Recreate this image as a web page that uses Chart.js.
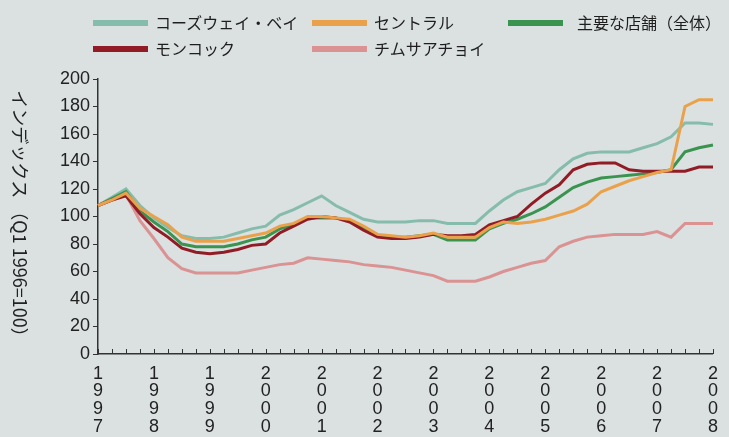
<!DOCTYPE html>
<html>
<head>
<meta charset="utf-8">
<script src="https://cdn.jsdelivr.net/npm/chart.js@4/dist/chart.umd.min.js"></script>
<style>
  html, body { margin: 0; padding: 0; }
  body { width: 729px; height: 437px; background: #dbe0e1; position: relative; overflow: hidden; }
  #chart { position: absolute; left: 0; top: 0; }
  .lg { position: absolute; font-family: "Noto Sans CJK JP", sans-serif; font-size: 16px; color: #1e1e1e; line-height: 1; white-space: nowrap; }
  .sw { position: absolute; height: 6px; width: 55px; }
</style>
</head>
<body>
<canvas id="chart" width="729" height="437"></canvas>
<div id="legend"></div>
<script>
// quarterly, 1997Q1 .. 2008Q1
const years = ['1997', '1998', '1999', '2000', '2001', '2002', '2003', '2004', '2005', '2006', '2007', '2008'];
const quarters = [];
years.forEach(y => { ['Q1', 'Q2', 'Q3', 'Q4'].forEach(q => quarters.push(y + q)); });
quarters.length = 45;

const causewayBay = [108, 114, 120, 108, 99, 92, 86, 84, 84, 85, 88, 91, 93, 101, 105, 110, 115, 108, 103, 98,
  96, 96, 96, 97, 97, 95, 95, 95, 104, 112, 118, 121, 124, 134, 142, 146, 147, 147, 147, 150, 153, 158, 168, 168, 167];
const central = [108, 112, 117, 106, 100, 94, 85, 82, 82, 82, 84, 86, 88, 93, 95, 100, 100, 99, 98, 93,
  87, 86, 85, 86, 88, 85, 85, 85, 92, 96, 95, 96, 98, 101, 104, 109, 118, 122, 126, 129, 132, 134, 180, 185, 185];
const mongKok = [108, 112, 115, 102, 92, 85, 77, 74, 73, 74, 76, 79, 80, 88, 93, 98, 100, 99, 96, 90,
  85, 84, 84, 85, 87, 86, 86, 87, 94, 97, 100, 109, 117, 123, 134, 138, 139, 139, 134, 133, 133, 133, 133, 136, 136];
const tsimShaTsui = [108, 112, 116, 97, 84, 70, 62, 59, 59, 59, 59, 61, 63, 65, 66, 70, 69, 68, 67, 65,
  64, 63, 61, 59, 57, 53, 53, 53, 56, 60, 63, 66, 68, 78, 82, 85, 86, 87, 87, 87, 89, 85, 95, 95, 95];
const overall = [108, 113, 118, 104, 96, 89, 80, 78, 78, 78, 80, 83, 85, 91, 94, 99, 99, 99, 97, 91,
  86, 85, 85, 86, 87, 83, 83, 83, 91, 95, 98, 102, 107, 114, 121, 125, 128, 129, 130, 131, 132, 134, 147, 150, 152];

const yTicks = [0, 20, 40, 60, 80, 100, 120, 140, 160, 180, 200];
const yTitle = 'インデックス （Q1 1996=100）';

const colors = {
  causeway: '#86bcab',
  central: '#e9a24b',
  overall: '#3a9450',
  mongkok: '#921c26',
  tst: '#da9292'
};

const legendItems = [
  { label: 'コーズウェイ・ベイ', color: colors.causeway, x: 93, y: 23 },
  { label: 'セントラル', color: colors.central, x: 312, y: 23 },
  { label: '主要な店舗（全体）', color: colors.overall, x: 508, y: 23 },
  { label: 'モンコック', color: colors.mongkok, x: 93, y: 49 },
  { label: 'チムサアチョイ', color: colors.tst, x: 312, y: 49 }
];

function buildLegend() {
  const box = document.getElementById('legend');
  legendItems.forEach(it => {
    const sw = document.createElement('div');
    sw.className = 'sw';
    sw.style.left = it.x + 'px';
    sw.style.top = (it.y - 3) + 'px';
    sw.style.background = it.color;
    box.appendChild(sw);
    const tx = document.createElement('div');
    tx.className = 'lg';
    tx.style.left = (it.x + (it.x === 508 ? 69 : 62)) + 'px';
    tx.style.top = (it.y - 9) + 'px';
    tx.innerText = it.label;
    box.appendChild(tx);
  });
}

// y title reads top-to-bottom, x ticks point up into the plot
const extrasPlugin = {
  id: 'extras',
  afterDraw(chart) {
    const ctx = chart.ctx;
    const xs = chart.scales.x;
    const bottom = chart.chartArea.bottom;
    ctx.save();
    ctx.strokeStyle = '#333';
    ctx.lineWidth = 1;
    for (let i = 0; i < quarters.length; i++) {
      const px = Math.round(xs.getPixelForValue(i)) + 0.5;
      ctx.beginPath();
      ctx.moveTo(px, bottom);
      ctx.lineTo(px, bottom - 5);
      ctx.stroke();
    }
    ctx.translate(20, 218);
    ctx.rotate(Math.PI / 2);
    ctx.fillStyle = '#222';
    ctx.font = '18px "Noto Sans CJK JP"';
    ctx.textAlign = 'center';
    ctx.textBaseline = 'middle';
    ctx.fillText(yTitle, 0, 0);
    ctx.restore();
  }
};

function initChart() {
  Chart.defaults.font.family = "'Liberation Sans', Arial, sans-serif";
  Chart.defaults.color = '#222';

  const mk = (label, data, color) => ({
    label: label,
    data: data,
    borderColor: color,
    backgroundColor: color,
    borderWidth: 3,
    pointRadius: 0,
    tension: 0,
    fill: false
  });

  new Chart(document.getElementById('chart').getContext('2d'), {
    type: 'line',
    data: {
      labels: quarters,
      datasets: [
        mk('セントラル', central, colors.central),
        mk('モンコック', mongKok, colors.mongkok),
        mk('主要な店舗（全体）', overall, colors.overall),
        mk('コーズウェイ・ベイ', causewayBay, colors.causeway),
        mk('チムサアチョイ', tsimShaTsui, colors.tst)
      ]
    },
    options: {
      responsive: false,
      animation: false,
      layout: { padding: { top: 79, right: 5, left: 0, bottom: 0 } },
      scales: {
        x: {
          type: 'category',
          offset: false,
          afterFit: (s) => { s.height = 83; },
          grid: { display: true, drawOnChartArea: false, drawTicks: false },
          border: { display: true, color: '#333', width: 1.5 },
          ticks: {
            autoSkip: false,
            maxRotation: 0,
            minRotation: 0,
            padding: 11,
            font: { size: 18, lineHeight: 0.98 },
            callback: function (val, idx) {
              return idx % 4 === 0 ? quarters[idx].slice(0, 4).split('') : '';
            }
          }
        },
        y: {
          min: 0,
          max: 200,
          afterFit: (s) => { s.width = 98; },
          afterBuildTicks: (s) => { s.ticks = yTicks.map(v => ({ value: v })); },
          grid: { display: true, drawOnChartArea: false, drawTicks: true, tickLength: 5, color: '#333' },
          border: { display: true, color: '#333', width: 1.5 },
          ticks: { padding: 3, font: { size: 18 } }
        }
      },
      plugins: {
        legend: { display: false },
        tooltip: { enabled: false }
      }
    },
    plugins: [extrasPlugin]
  });
}

buildLegend();
initChart();
</script>
</body>
</html>
